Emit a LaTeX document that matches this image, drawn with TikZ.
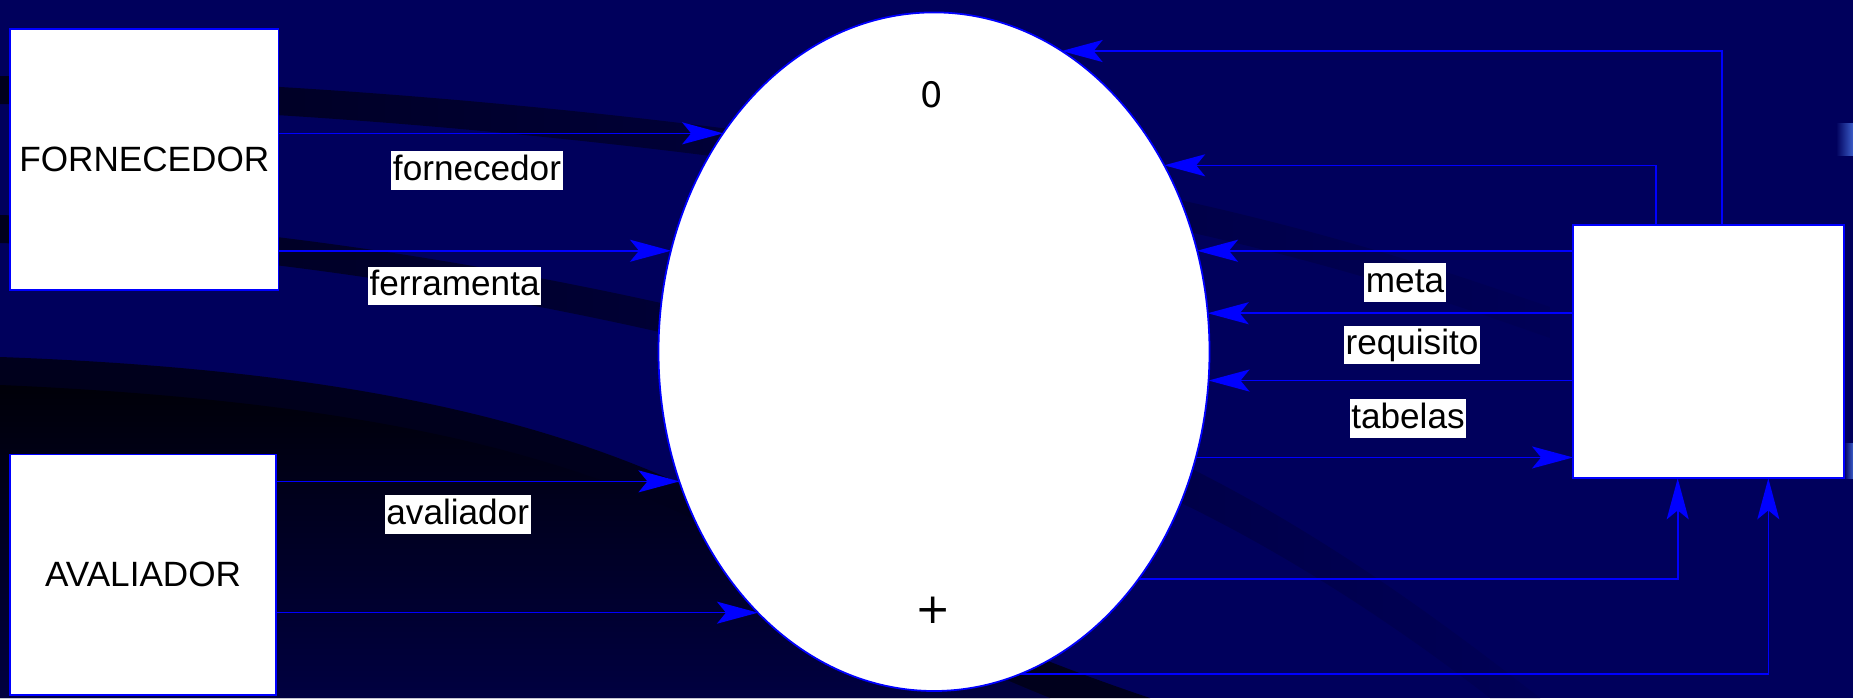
\documentclass[tikz,border=0pt]{standalone}
\usepackage{fontspec}
\setmainfont{Liberation Sans}
\newfontfamily\dejavu{DejaVu Sans}
\usepackage{tikz}
\usetikzlibrary{arrows.meta,shapes.geometric}
\definecolor{DFDNavy}{HTML}{00005C}
\definecolor{DFDDark}{HTML}{00001C}
\definecolor{DFDBlack}{HTML}{000008}
\definecolor{DFDBlue}{HTML}{0000FF}
\definecolor{DFDSky}{HTML}{3A5CC8}

\begin{document}
\begin{tikzpicture}[x=1cm,y=1cm,
  entity/.style={draw=DFDBlue,fill=white,line width=0.5pt,inner sep=0pt,outer sep=0pt},
  flow/.style={DFDBlue,line width=0.45pt,-{Stealth[length=0.41cm,width=0.22cm,inset=0.09cm]}},
  flowlabel/.style={fill=white,inner xsep=0.5pt,inner ysep=0pt,text height=8.3pt,text depth=2.7pt}]
\path[use as bounding box] (0,0) rectangle (18.53,6.98);
\fill[DFDNavy] (0,0) rectangle (18.53,6.98);
% background swooshes
\shade[left color=DFDDark,middle color=DFDDark!80!DFDNavy,right color=DFDNavy!94!black] (0,6.22) .. controls (4,6.15) and (8,5.7) .. (11.8,4.98) .. controls (13.5,4.6) and (14.5,4.25) .. (15.5,3.91) -- (15.5,3.6) .. controls (14.5,3.95) and (13.5,4.3) .. (11.8,4.68) .. controls (8,5.4) and (4,5.87) .. (0,5.94) -- cycle;
\shade[left color=DFDDark,middle color=DFDDark!80!DFDNavy,right color=DFDNavy!94!black] (0,4.83) .. controls (4,4.7) and (9,3.6) .. (11.9,2.3) .. controls (13.3,1.6) and (14.5,0.7) .. (15.4,0) -- (14.9,0) .. controls (14,0.7) and (12.8,1.5) .. (11.6,2.05) .. controls (9,3.3) and (4,4.42) .. (0,4.55) -- cycle;
\fill[DFDDark] (0,3.41) .. controls (3.0,3.3) and (5.4,2.9) .. (7.3,1.9) .. controls (8.5,1.2) and (10,0.5) .. (11.5,0) -- (0,0) -- cycle;
\shade[top color=DFDBlack,bottom color=DFDNavy!70!black] (0,3.13) .. controls (3.0,3.0) and (5.4,2.6) .. (7.1,1.7) .. controls (8.3,1.0) and (9.5,0.4) .. (10.5,0) -- (0,0) -- cycle;
\shade[left color=DFDNavy,right color=DFDSky] (18.36,5.43) rectangle (18.53,5.74);
\shade[left color=DFDNavy,right color=DFDSky] (18.44,2.2) rectangle (18.53,2.55);

\node[entity,minimum width=2.685cm,minimum height=2.61cm] (forn) at (1.443,5.385) {FORNECEDOR};
\node[entity,minimum width=2.66cm,minimum height=2.406cm] (aval) at (1.431,1.233) {AVALIADOR};
\node[entity,ellipse,minimum width=5.51cm,minimum height=6.786cm] (proc) at (9.34,3.463) {};
\node[entity,minimum width=2.713cm,minimum height=2.533cm] (rbox) at (17.087,3.463) {};
\node[font=\dejavu] (pnum) at (9.32,6.036) {0};
\node[font=\dejavu\large] (pmark) at (9.328,0.88) {+};

% flows in
\draw[flow] (forn.east |- proc.134.88) -- (proc.134.88);
\draw[flow] (forn.east |- proc.159.32) -- (proc.159.32);
\draw[flow] (aval.east |- proc.207.12) -- (proc.207.12);
\draw[flow] (aval.east |- proc.236.19) -- (proc.236.19);
\draw[flow] ([xshift=0.13cm]rbox.north) |- (proc.67.23);
\draw[flow] ([xshift=-0.53cm]rbox.north) |- (proc.39.77);
\draw[flow] (rbox.west |- proc.21.42) -- (proc.21.42);
\draw[flow] (rbox.west |- proc.8.32) -- (proc.8.32);
\draw[flow] (rbox.west |- proc.-6.93) -- (proc.-6.93);
% flows out
\draw[flow] (proc.-22.88) -- (rbox.west |- proc.-22.88);
\draw[flow] (proc.-48.18) -| ([xshift=-0.31cm]rbox.south);
\draw[flow] (proc.-75) -| ([xshift=0.596cm]rbox.south);

\node[flowlabel] (lforn) at (4.77,5.273) {fornecedor};
\node[flowlabel] (lferr) at (4.546,4.12) {ferramenta};
\node[flowlabel] (laval) at (4.577,1.833) {avaliador};
\node[flowlabel] (lmeta) at (14.05,4.153) {meta};
\node[flowlabel] (lreq) at (14.12,3.53) {requisito};
\node[flowlabel] (ltab) at (14.08,2.793) {tabelas};
\end{tikzpicture}
\end{document}
